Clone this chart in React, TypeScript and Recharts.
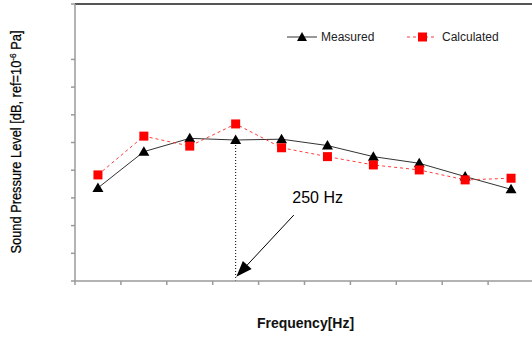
import { LineChart, Line, XAxis, YAxis, ReferenceLine, Legend, Label } from 'recharts'

const frequencies = ['31.5', '63', '125', '250', '500', '1k', '2k', '4k', '8k', '16k']
const measured = [33.6, 46.7, 51.5, 50.9, 51.2, 48.9, 44.9, 42.5, 37.7, 33.1]
const calculated = [38.3, 52.3, 48.7, 56.7, 48.1, 44.9, 41.9, 40.1, 36.5, 37.1]
const yTicks = [0, 10, 20, 30, 40, 50, 60, 70, 80, 90, 100]
const xTicks = [0, 1, 2, 3, 4, 5, 6, 7, 8, 9, 10]
const markedIndex = 3 // 250 Hz

// band-style positions: each frequency sits in the middle of its slot
const data = frequencies.map((f, i) => ({ freq: f, x: i + 0.5, measured: measured[i], calculated: calculated[i] }))

const FONT = '"Liberation Sans", Arial, sans-serif'
const AXIS = '#9a9a9a'

const Tri = ({ cx, cy }: any) => {
  if (cx == null || cy == null) return null
  return <polygon points={`${cx},${cy - 5.5} ${cx + 5.5},${cy + 4} ${cx - 5.5},${cy + 4}`} fill="#000" />
}
const Sq = ({ cx, cy }: any) => {
  if (cx == null || cy == null) return null
  return <rect x={cx - 4.5} y={cy - 4.5} width={9} height={9} fill="#ff0000" />
}
const NoTick = () => null

const Arrow = (p: any) => {
  const { x1, y1, x2, y2 } = p
  if (x1 == null) return null
  const dx = x2 - x1, dy = y2 - y1
  const len = Math.sqrt(dx * dx + dy * dy)
  const ux = dx / len, uy = dy / len
  const bx = x2 - ux * 16, by = y2 - uy * 16
  const px = -uy * 6, py = ux * 6
  return (
    <g>
      <line x1={x1} y1={y1} x2={bx} y2={by} stroke="#000" strokeWidth={1} />
      <polygon points={`${x2},${y2} ${bx + px},${by + py} ${bx - px},${by - py}`} fill="#000" />
      <text x={x1 - 1.5} y={y1 - 12} fontFamily={FONT} fontSize={16} fill="#000">250 Hz</text>
    </g>
  )
}

const LegendBox = () => (
  <div style={{ display: 'flex', fontFamily: FONT, fontSize: 12, color: '#222', lineHeight: '14px' }}>
    <div style={{ display: 'flex', alignItems: 'center', width: 120 }}>
      <svg width={31} height={14}>
        <line x1={0} y1={7} x2={30} y2={7} stroke="#333" strokeWidth={1} />
        <polygon points="15,2 20,11 10,11" fill="#000" />
      </svg>
      <span style={{ marginLeft: 3 }}>Measured</span>
    </div>
    <div style={{ display: 'flex', alignItems: 'center' }}>
      <svg width={30} height={14}>
        <line x1={0} y1={7} x2={30} y2={7} stroke="#ff3b3b" strokeWidth={1} strokeDasharray="3 3" />
        <rect x={11} y={2.5} width={9} height={9} fill="#ff0000" />
      </svg>
      <span style={{ marginLeft: 5 }}>Calculated</span>
    </div>
  </div>
)

const YTitle = ({ viewBox }: any) => {
  const x = (viewBox?.x ?? 0) + 20
  const y = 142
  return (
    <text x={x} y={y} transform={`rotate(-90 ${x} ${y})`} textAnchor="middle" fontFamily={FONT} fontSize={14}
      fill="#000" stroke="#000" strokeWidth={0.25} textLength={223} lengthAdjust="spacingAndGlyphs">
      Sound Pressure Level [dB, ref=10<tspan fontSize={9} dy={-5}>-6</tspan><tspan dy={5}> Pa]</tspan>
    </text>
  )
}

const XTitle = ({ viewBox }: any) => {
  const x = (viewBox?.x ?? 74) + (viewBox?.width ?? 460) / 2 + 1
  const y = (viewBox?.y ?? 281) + 47
  return (
    <text x={x} y={y} textAnchor="middle" fontFamily={FONT} fontSize={14} fontWeight="bold" fill="#111">
      Frequency[Hz]
    </text>
  )
}

export default function App() {
  return (
    <div style={{ position: 'absolute', left: 0, top: 0, width: 532, height: 338, overflow: 'hidden', background: '#fff' }}>
      <LineChart width={540} height={338} data={data} margin={{ top: 4, right: 6, bottom: 0, left: 1 }}>
        <XAxis type="number" dataKey="x" domain={[0, 10]} ticks={xTicks} tick={<NoTick />} tickSize={4}
          tickLine={{ stroke: AXIS, strokeWidth: 1.5 }} height={57} stroke={AXIS} strokeWidth={1.5} allowDataOverflow>
          <Label content={<XTitle />} />
        </XAxis>
        <YAxis type="number" domain={[0, 100]} ticks={yTicks} tick={<NoTick />} tickSize={4}
          tickLine={{ stroke: AXIS, strokeWidth: 1.5 }} width={74} stroke={AXIS} strokeWidth={1.5}>
          <Label content={<YTitle />} />
        </YAxis>
        <ReferenceLine y={100} stroke="#555" strokeWidth={2} />
        <ReferenceLine segment={[{ x: data[markedIndex].x, y: 0 }, { x: data[markedIndex].x, y: measured[markedIndex] }]}
          stroke="#000" strokeDasharray="1 2" />
        <ReferenceLine segment={[{ x: 4.767, y: 23.8 }, { x: 3.515, y: 1.55 }]} shape={<Arrow />} />
        <Legend layout="horizontal" verticalAlign="middle" align="center" content={<LegendBox />}
          wrapperStyle={{ top: 30, left: 287, width: 245, height: 14 }} />
        <Line dataKey="measured" name="Measured" stroke="#333" strokeWidth={1} dot={<Tri />}
          activeDot={false} isAnimationActive={false} />
        <Line dataKey="calculated" name="Calculated" stroke="#ff3b3b" strokeWidth={1} strokeDasharray="3 3"
          dot={<Sq />} activeDot={false} isAnimationActive={false} />
      </LineChart>
    </div>
  )
}
